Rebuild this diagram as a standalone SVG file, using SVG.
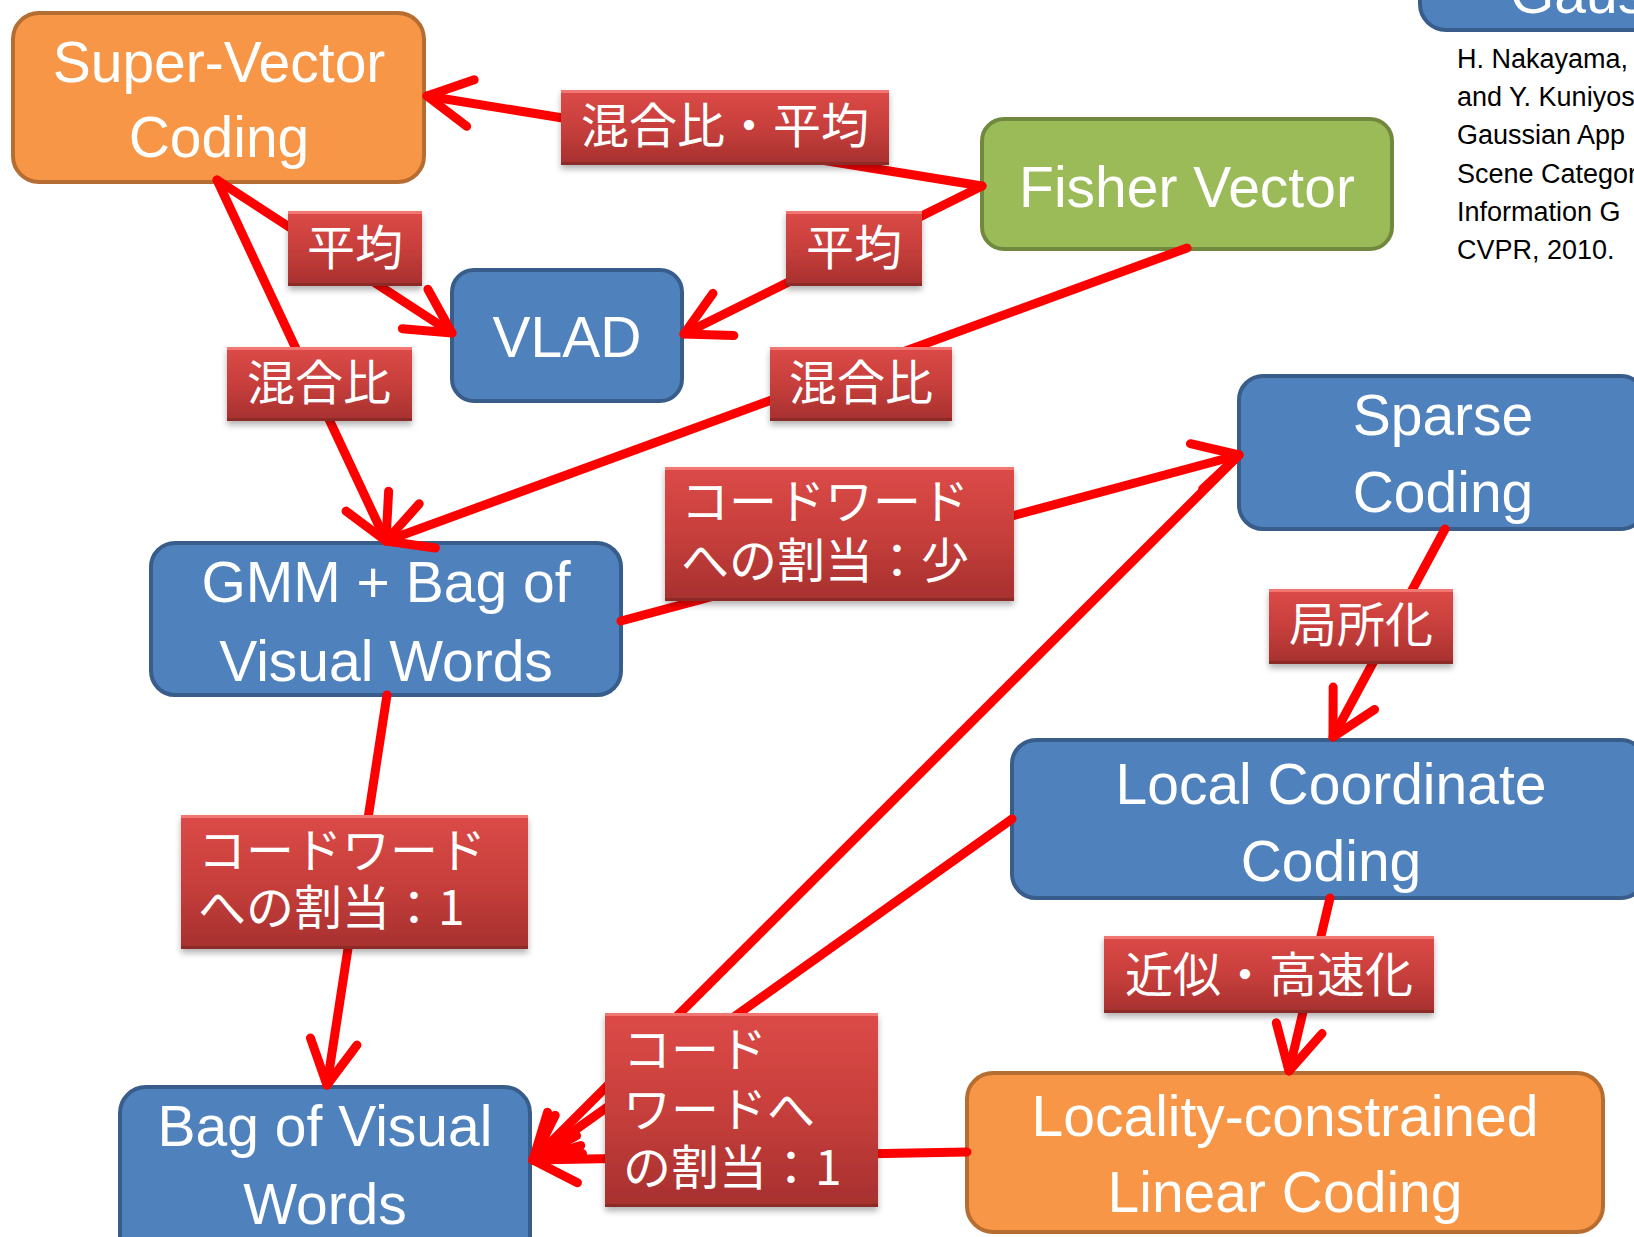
<svg xmlns="http://www.w3.org/2000/svg" width="1634" height="1237" viewBox="0 0 1634 1237">
<defs>
<style>
.blue{fill:#4F81BD;stroke:#385D8A;stroke-width:4}
.orange{fill:#F79646;stroke:#B66D31;stroke-width:4}
.green{fill:#9BBB59;stroke:#71893F;stroke-width:4}
.nt{font-family:"Liberation Sans",Arial,sans-serif;font-size:57px;fill:#FFFFFF;text-anchor:middle}
.lt{font-family:"Noto Sans CJK JP","Noto Sans CJK SC",sans-serif;font-size:48px;fill:#FFFFFF}
.mid{text-anchor:middle}
.cite{font-family:"Liberation Sans",Arial,sans-serif;font-size:27px;fill:#000000}
.lbl{fill:url(#lg);filter:url(#sh)}
.hl{fill:#F27773}
.dk{fill:#8C2A28}
.cn{fill:none;stroke:#FF0000;stroke-width:9;stroke-linecap:round;marker-end:url(#ah)}
</style>
<linearGradient id="lg" x1="0" y1="0" x2="0" y2="1">
<stop offset="0" stop-color="#DC4A47"/>
<stop offset="0.5" stop-color="#C73F3C"/>
<stop offset="1" stop-color="#A6302E"/>
</linearGradient>
<filter id="sh" x="-10%" y="-10%" width="120%" height="130%">
<feDropShadow dx="0" dy="4" stdDeviation="3" flood-color="#000000" flood-opacity="0.3"/>
</filter>
<marker id="ah" markerUnits="userSpaceOnUse" markerWidth="120" markerHeight="120" viewBox="-60 -60 120 120" refX="0" refY="0" orient="auto" overflow="visible">
<path d="M-44,-23.5 L0,0 L-44,23.5" fill="none" stroke="#FF0000" stroke-width="9" stroke-linecap="round" stroke-linejoin="round"/>
</marker>
</defs>
<rect x="0" y="0" width="1634" height="1237" fill="#FFFFFF"/>

<g id="node-gaus">
<rect class="blue" x="1420" y="-50" width="260" height="80" rx="26"/>
<text class="nt" x="1510" y="13" style="text-anchor:start">Gaus</text>
</g>
<g id="citation">
<text class="cite" x="1457" y="68">H. Nakayama,</text>
<text class="cite" x="1457" y="106">and Y. Kuniyos</text>
<text class="cite" x="1457" y="144">Gaussian App</text>
<text class="cite" x="1457" y="183">Scene Categor</text>
<text class="cite" x="1457" y="221">Information G</text>
<text class="cite" x="1457" y="259">CVPR, 2010.</text>
</g>
<g id="node-svc">
<rect class="orange" x="13" y="13" width="411" height="169" rx="26"/>
<text class="nt" x="219" y="82">Super-Vector</text>
<text class="nt" x="219" y="157">Coding</text>
</g>
<g id="node-fisher">
<rect class="green" x="982" y="119" width="410" height="130" rx="22"/>
<text class="nt" x="1187" y="207">Fisher Vector</text>
</g>
<g id="node-vlad">
<rect class="blue" x="452" y="270" width="230" height="131" rx="22"/>
<text class="nt" x="567" y="357">VLAD</text>
</g>
<g id="node-gmm">
<rect class="blue" x="151" y="543" width="470" height="152" rx="24"/>
<text class="nt" x="386" y="602">GMM + Bag of</text>
<text class="nt" x="386" y="681">Visual Words</text>
</g>
<g id="node-sparse">
<rect class="blue" x="1239" y="376" width="406" height="153" rx="24"/>
<text class="nt" x="1443" y="435">Sparse</text>
<text class="nt" x="1443" y="512">Coding</text>
</g>
<g id="node-lcc">
<rect class="blue" x="1012" y="740" width="633" height="158" rx="24"/>
<text class="nt" x="1331" y="804">Local Coordinate</text>
<text class="nt" x="1331" y="881">Coding</text>
</g>
<g id="node-llc">
<rect class="orange" x="967" y="1073" width="636" height="159" rx="26"/>
<text class="nt" x="1285" y="1136">Locality-constrained</text>
<text class="nt" x="1285" y="1212">Linear Coding</text>
</g>
<g id="node-bovw">
<rect class="blue" x="120" y="1087" width="410" height="180" rx="26"/>
<text class="nt" x="325" y="1146">Bag of Visual</text>
<text class="nt" x="325" y="1224">Words</text>
</g>

<g id="connectors">
<path class="cn" d="M982,186 L427,96"/>
<path class="cn" d="M982,186 L684,334"/>
<path class="cn" d="M1187,248 L386,541"/>
<path class="cn" d="M217,180 L386,541"/>
<path class="cn" d="M217,180 L452,333"/>
<path class="cn" d="M621,621 L1239,455"/>
<path class="cn" d="M387,695 L327,1085"/>
<path class="cn" d="M1239,455 L533,1160"/>
<path class="cn" d="M1012,819 L533,1160"/>
<path class="cn" d="M967,1152 L533,1160"/>
<path class="cn" d="M1445,529 L1333,737"/>
<path class="cn" d="M1330,898 L1289,1071"/>
</g>

<g id="label-mix-mean">
<rect class="lbl" x="561" y="90" width="328" height="75"/>
<rect class="hl" x="561" y="90" width="328" height="3"/>
<rect class="dk" x="561" y="162" width="328" height="3"/>
<text class="lt mid" x="725" y="143">混合比・平均</text>
</g>
<g id="label-mean-right">
<rect class="lbl" x="786" y="211" width="136" height="75"/>
<rect class="hl" x="786" y="211" width="136" height="3"/>
<rect class="dk" x="786" y="283" width="136" height="3"/>
<text class="lt mid" x="854" y="265">平均</text>
</g>
<g id="label-mean-left">
<rect class="lbl" x="288" y="211" width="134" height="75"/>
<rect class="hl" x="288" y="211" width="134" height="3"/>
<rect class="dk" x="288" y="283" width="134" height="3"/>
<text class="lt mid" x="355" y="265">平均</text>
</g>
<g id="label-mix-left">
<rect class="lbl" x="227" y="347" width="185" height="74"/>
<rect class="hl" x="227" y="347" width="185" height="3"/>
<rect class="dk" x="227" y="418" width="185" height="3"/>
<text class="lt mid" x="319" y="400">混合比</text>
</g>
<g id="label-mix-right">
<rect class="lbl" x="770" y="347" width="182" height="74"/>
<rect class="hl" x="770" y="347" width="182" height="3"/>
<rect class="dk" x="770" y="418" width="182" height="3"/>
<text class="lt mid" x="861" y="400">混合比</text>
</g>
<g id="label-assign-few">
<rect class="lbl" x="665" y="467" width="349" height="134"/>
<rect class="hl" x="665" y="467" width="349" height="3"/>
<rect class="dk" x="665" y="598" width="349" height="3"/>
<text class="lt" x="681" y="519">コードワード</text>
<text class="lt" x="681" y="578">への割当：少</text>
</g>
<g id="label-local">
<rect class="lbl" x="1269" y="589" width="184" height="75"/>
<rect class="hl" x="1269" y="589" width="184" height="3"/>
<rect class="dk" x="1269" y="661" width="184" height="3"/>
<text class="lt mid" x="1361" y="642">局所化</text>
</g>
<g id="label-assign-one-left">
<rect class="lbl" x="181" y="815" width="347" height="134"/>
<rect class="hl" x="181" y="815" width="347" height="3"/>
<rect class="dk" x="181" y="946" width="347" height="3"/>
<text class="lt" x="198" y="868">コードワード</text>
<text class="lt" x="198" y="925">への割当：1</text>
</g>
<g id="label-approx">
<rect class="lbl" x="1104" y="936" width="330" height="77"/>
<rect class="hl" x="1104" y="936" width="330" height="3"/>
<rect class="dk" x="1104" y="1010" width="330" height="3"/>
<text class="lt mid" x="1269" y="992">近似・高速化</text>
</g>
<g id="label-assign-one-bottom">
<rect class="lbl" x="605" y="1013" width="273" height="194"/>
<rect class="hl" x="605" y="1013" width="273" height="3"/>
<rect class="dk" x="605" y="1204" width="273" height="3"/>
<text class="lt" x="623" y="1067">コード</text>
<text class="lt" x="623" y="1127">ワードへ</text>
<text class="lt" x="623" y="1185">の割当：1</text>
</g>
</svg>
